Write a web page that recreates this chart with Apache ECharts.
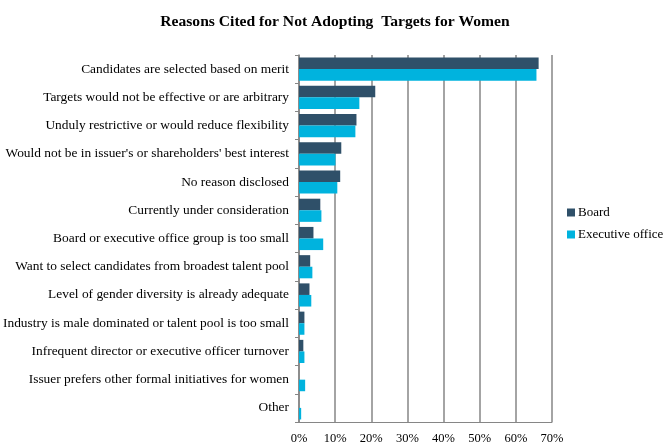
<!DOCTYPE html>
<html><head><meta charset="utf-8">
<script src="https://cdn.jsdelivr.net/npm/echarts@6/dist/echarts.min.js"></script>
<style>html,body{margin:0;padding:0;background:#fff}#c{width:671px;height:447px}</style>
</head><body><div id="c"></div>
<script>
const categories = [
  "Candidates are selected based on merit",
  "Targets would not be effective or are arbitrary",
  "Unduly restrictive or would reduce flexibility",
  "Would not be in issuer's or shareholders' best interest",
  "No reason disclosed",
  "Currently under consideration",
  "Board or executive office group is too small",
  "Want to select candidates from broadest talent pool",
  "Level of gender diversity is already adequate",
  "Industry is male dominated or talent pool is too small",
  "Infrequent director or executive officer turnover",
  "Issuer prefers other formal initiatives for women",
  "Other"
];
const board = [66.3, 21.1, 15.9, 11.7, 11.4, 5.9, 4.0, 3.1, 2.9, 1.5, 1.2, 0, 0];
const executive = [65.7, 16.7, 15.6, 10.1, 10.6, 6.2, 6.7, 3.7, 3.4, 1.5, 1.5, 1.7, 0.6];
const seriesNames = ["Board", "Executive office"];
const ticks = {min: 0, max: 70, interval: 10};

const font = "'Liberation Serif','Times New Roman',serif";
const chart = echarts.init(document.getElementById('c'));
chart.setOption({
  animation: false,
  title: {text: "Reasons Cited for Not Adopting  Targets for Women", left: 330, textAlign: 'center', top: 9,
    textStyle: {fontFamily: font, fontSize: 15.6, fontWeight: 'bold', color: '#000'}},
  legend: {orient: 'vertical', left: 567, top: 206, padding: 0, itemWidth: 8, itemHeight: 8, itemGap: 9,
    icon: 'rect', textStyle: {fontFamily: font, fontSize: 13, color: '#000', padding: [0, 0, 0, -2]},
    data: seriesNames},
  grid: {left: 299, right: 119, top: 55, bottom: 25, containLabel: false},
  xAxis: {type: 'value', min: ticks.min, max: ticks.max, interval: ticks.interval,
    axisLabel: {formatter: '{value}%', fontFamily: font, fontSize: 12.5, color: '#000', margin: 10},
    axisLine: {show: true, lineStyle: {color: '#868686', width: 1}},
    axisTick: {show: false},
    splitLine: {show: true, lineStyle: {color: '#868686', width: 1.5}}},
  yAxis: {type: 'category', data: categories, inverse: true,
    axisLabel: {fontFamily: font, fontSize: 13.4, color: '#000', margin: 10},
    axisLine: {show: true, lineStyle: {color: '#868686', width: 1.5}},
    axisTick: {show: true, length: 4, lineStyle: {color: '#868686'}}},
  series: [
    {name: seriesNames[0], type: 'bar', data: board, barGap: '0%', barCategoryGap: '18%',
      itemStyle: {color: '#2F5069'}},
    {name: seriesNames[1], type: 'bar', data: executive, barGap: '0%', barCategoryGap: '18%',
      itemStyle: {color: '#00B3DE'}}
  ]
});
</script></body></html>
